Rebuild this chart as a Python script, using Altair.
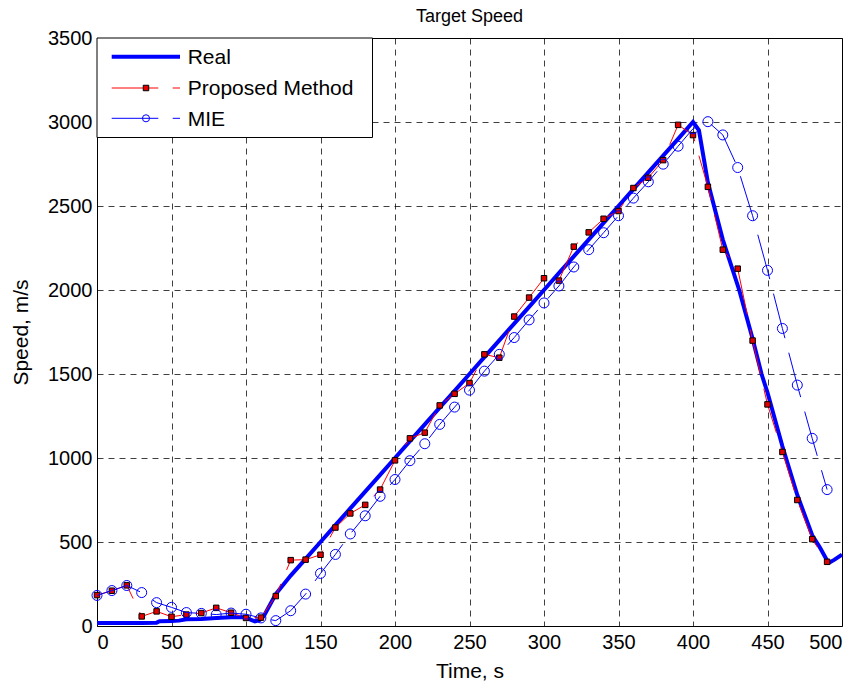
import altair as alt
import pandas as pd

# ---------------- data ----------------
real_time = [0, 10, 20, 30, 40, 42, 50, 55, 60, 70, 80, 90, 100, 103, 106, 109, 112,
             120, 130, 140, 150, 160, 170, 180, 190, 200, 210, 220, 230, 240, 250,
             260, 270, 280, 290, 300, 310, 320, 330, 340, 350, 360, 370, 380, 390,
             400, 404, 410, 420, 431, 440, 446, 450, 460, 470, 480, 485, 490, 492,
             495, 500]
real_speed = [18, 18, 18, 18, 20, 28, 30, 32, 40, 42, 48, 52, 52, 38, 28, 35, 60,
              190, 300, 400, 500, 600, 700, 800, 900, 1000, 1100, 1200, 1300, 1400, 1500,
              1600, 1700, 1800, 1900, 2000, 2100, 2200, 2300, 2400, 2500, 2600, 2700, 2800, 2900,
              3000, 2950, 2640, 2300, 2000, 1710, 1500, 1390, 1070, 780, 540, 470, 390, 380,
              395, 425]

est_time = [0, 10, 20, 30, 40, 50, 60, 70, 80, 90, 100, 110, 120, 130, 140, 150, 160,
            170, 180, 190, 200, 210, 220, 230, 240, 250, 260, 270, 280, 290, 300, 310,
            320, 330, 340, 350, 360, 370, 380, 390, 400, 410, 420, 430, 440, 450, 460,
            470, 480, 490]
proposed_speed = [184, 210, 242, 57, 87, 55, 68, 77, 108, 79, 48, 50, 178, 392, 395, 424, 586,
                  670, 721, 812, 986, 1117, 1151, 1313, 1382, 1446, 1617, 1597, 1842, 1955, 2070, 2056,
                  2258, 2343, 2424, 2470, 2607, 2668, 2773, 2983, 2922, 2614, 2240, 2127, 1699, 1319, 1036,
                  750, 517, 382]
mie_speed = [182, 211, 241, 199, 139, 111, 80, 75, 68, 77, 70, 48, 32, 91, 190, 313, 426,
             548, 656, 772, 872, 984, 1085, 1200, 1303, 1404, 1517, 1617, 1717, 1822, 1923, 2024,
             2137, 2240, 2341, 2442, 2547, 2644, 2749, 2856, 2960, 3002, 2923, 2729, 2442, 2117, 1771,
             1434, 1117, 812]

legend_labels = ["Real", "Proposed Method", "MIE"]
x_ticks = [0, 50, 100, 150, 200, 250, 300, 350, 400, 450, 500]
y_ticks = [0, 500, 1000, 1500, 2000, 2500, 3000, 3500]

real_df = pd.DataFrame({"t": real_time, "v": real_speed})
prop_df = pd.DataFrame({"t": est_time, "v": proposed_speed})
mie_df = pd.DataFrame({"t": est_time, "v": mie_speed})
one = pd.DataFrame({"i": [0]})

FONT = "Liberation Sans"

x_enc = alt.X("t:Q", scale=alt.Scale(domain=[0, 500], nice=False),
              axis=alt.Axis(values=x_ticks, format="d", title="Time, s"))
y_enc = alt.Y("v:Q", scale=alt.Scale(domain=[0, 3500], nice=False),
              axis=alt.Axis(values=y_ticks, format="d", title="Speed, m/s"))

real_line = alt.Chart(real_df).mark_line(color="#0000ff", strokeWidth=4).encode(x=x_enc, y=y_enc)
prop_line = alt.Chart(prop_df).mark_line(color="#ff0000", strokeWidth=1, strokeDash=[46, 15]).encode(x=x_enc, y=y_enc)
prop_pts = alt.Chart(prop_df).mark_square(size=30, fill="#e00000", stroke="#000000",
                                          strokeWidth=1, opacity=1).encode(x=x_enc, y=y_enc)
mie_line = alt.Chart(mie_df).mark_line(color="#0000ff", strokeWidth=1, strokeDash=[46, 15]).encode(x=x_enc, y=y_enc)
mie_pts = alt.Chart(mie_df).mark_point(shape="circle", size=100, filled=False, color="#0000ff",
                                       strokeWidth=1, opacity=1).encode(x=x_enc, y=y_enc)

# ---------------- manual MATLAB-style legend ----------------
leg_box = alt.Chart(one).mark_rect(fill="white", stroke="black", strokeWidth=1).encode(
    x=alt.value(0), x2=alt.value(275.5), y=alt.value(0), y2=alt.value(99.5))
leg_real = alt.Chart(one).mark_rule(color="#0000ff", strokeWidth=4).encode(
    x=alt.value(14.7), x2=alt.value(83), y=alt.value(18.7))
leg_prop1 = alt.Chart(one).mark_rule(color="#ff0000", strokeWidth=1).encode(
    x=alt.value(14.7), x2=alt.value(61.3), y=alt.value(50))
leg_prop2 = alt.Chart(one).mark_rule(color="#ff0000", strokeWidth=1).encode(
    x=alt.value(75.7), x2=alt.value(83), y=alt.value(50))
leg_prop_pt = alt.Chart(one).mark_square(size=30, fill="#e00000", stroke="#000000", strokeWidth=1,
                                         opacity=1).encode(x=alt.value(49), y=alt.value(50))
leg_mie1 = alt.Chart(one).mark_rule(color="#0000ff", strokeWidth=1).encode(
    x=alt.value(14.7), x2=alt.value(61.3), y=alt.value(80.3))
leg_mie2 = alt.Chart(one).mark_rule(color="#0000ff", strokeWidth=1).encode(
    x=alt.value(75.7), x2=alt.value(83), y=alt.value(80.3))
leg_mie_pt = alt.Chart(one).mark_point(shape="circle", size=50, filled=False, color="#0000ff",
                                       strokeWidth=1, opacity=1).encode(x=alt.value(49), y=alt.value(80.3))
leg_texts = [
    alt.Chart(one).mark_text(align="left", baseline="middle", fontSize=21, font=FONT, color="black").encode(
        x=alt.value(90.7), y=alt.value(yy), text=alt.value(lbl))
    for lbl, yy in zip(legend_labels, [19.5, 51, 81.5])
]

chart = alt.layer(
    real_line, prop_line, prop_pts, mie_line, mie_pts,
    leg_box, leg_real, leg_prop1, leg_prop2, leg_prop_pt, leg_mie1, leg_mie2, leg_mie_pt,
    *leg_texts
).properties(
    width=745, height=588,
    title=alt.TitleParams("Target Speed", fontSize=18, fontWeight="normal",
                          font=FONT, color="black", anchor="middle", offset=2),
    padding={"left": 97, "top": 38, "right": 22, "bottom": 60},
    autosize=alt.AutoSizeParams(type="none"),
).configure_view(
    stroke="black", strokeWidth=1
).configure_axis(
    grid=True, gridColor="black", gridDash=[6, 5], gridOpacity=0.75, gridWidth=1,
    domain=False, ticks=False,
    labelFont=FONT, labelFontSize=20, labelColor="black",
    titleFont=FONT, titleFontSize=21, titleFontWeight="normal", titleColor="black",
).configure_axisX(
    labelPadding=6, titlePadding=8
).configure_axisY(
    labelPadding=5, titlePadding=16
)

chart.save("out.html", embed_options={"renderer": "svg", "actions": False})
